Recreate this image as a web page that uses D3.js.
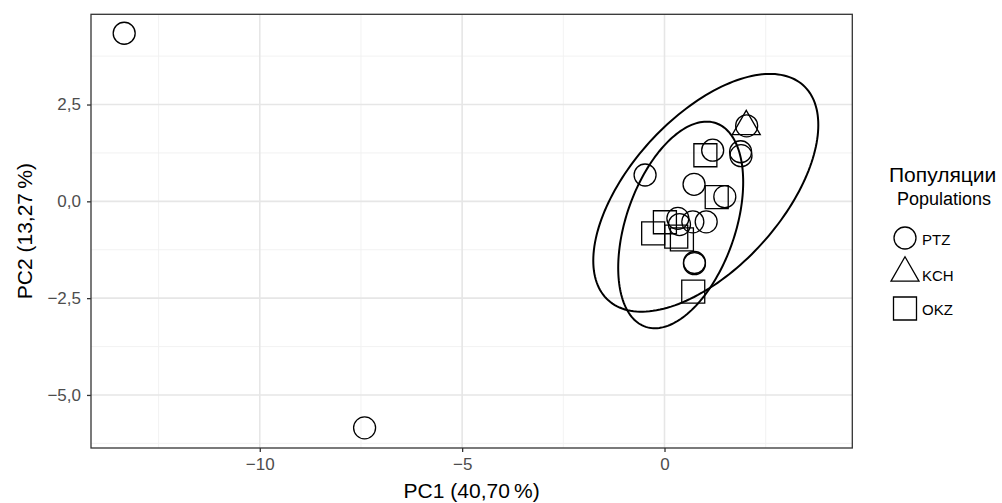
<!DOCTYPE html>
<html>
<head>
<meta charset="utf-8">
<script src="https://cdn.jsdelivr.net/npm/d3@7"></script>
<style>
  body { margin: 0; background: #fff; }
  text { font-family: "Liberation Sans", Arial, sans-serif; }
</style>
</head>
<body>
<div id="chart"></div>
<script>
// PCA scores
var ptzX = [-13.35, -7.41, -0.48, 2.03, 1.19, 1.88, 1.89, 0.73, 1.49, 0.33, 0.37, 0.70, 1.03, 0.74, 0.74];
var ptzY = [4.34, -5.85, 0.68, 1.95, 1.32, 1.28, 1.18, 0.44, 0.12, -0.44, -0.60, -0.53, -0.53, -1.58, -1.61];
var kchX = [2.02];
var kchY = [1.93];
var okzX = [1.01, 1.29, 0.01, -0.28, 0.29, 0.43, 0.71];
var okzY = [1.19, 0.11, -0.54, -0.83, -0.91, -0.98, -2.33];

// confidence ellipses: centre, sd x, sd y, covariance term (data units)
var ellCx = [1.02, 0.40];
var ellCy = [0.22, -0.61];
var ellSx = [2.78, 1.544];
var ellSy = [3.07, 2.668];
var ellCov = [4.87, 1.707];

var xTicks = [-10, -5, 0];
var yTicks = [-5, -2.5, 0, 2.5];
var xMinor = [-12.5, -7.5, -2.5, 2.5];
var yMinor = [-6.25, -3.75, -1.25, 1.25, 3.75];

var groups = ["PTZ", "KCH", "OKZ"];
var shapes = ["circle", "triangle", "square"];

var width = 1002, height = 503;
var margin = {top: 14.3, right: 149.7, bottom: 55, left: 91};

var svg = d3.select("#chart").append("svg")
    .attr("width", width)
    .attr("height", height);

var x = d3.scaleLinear().domain([-14.17, 4.64]).range([margin.left, width - margin.right]);
var y = d3.scaleLinear().domain([-6.37, 4.83]).range([height - margin.bottom, margin.top]);

var fmt = function(v, dec) {
  return d3.format(dec ? ".1f" : "d")(v).replace(".", ",").replace("-", "\u2212");
};

// grid
var grid = svg.append("g");
grid.selectAll(".xmin").data(xMinor).enter().append("line")
    .attr("x1", d => x(d)).attr("x2", d => x(d))
    .attr("y1", y.range()[0]).attr("y2", y.range()[1])
    .attr("stroke", "#f0f0f0").attr("stroke-width", 0.9);
grid.selectAll(".ymin").data(yMinor).enter().append("line")
    .attr("y1", d => y(d)).attr("y2", d => y(d))
    .attr("x1", x.range()[0]).attr("x2", x.range()[1])
    .attr("stroke", "#f0f0f0").attr("stroke-width", 0.9);
grid.selectAll(".xmaj").data(xTicks).enter().append("line")
    .attr("x1", d => x(d)).attr("x2", d => x(d))
    .attr("y1", y.range()[0]).attr("y2", y.range()[1])
    .attr("stroke", "#e6e6e6").attr("stroke-width", 1.6);
grid.selectAll(".ymaj").data(yTicks).enter().append("line")
    .attr("y1", d => y(d)).attr("y2", d => y(d))
    .attr("x1", x.range()[0]).attr("x2", x.range()[1])
    .attr("stroke", "#e6e6e6").attr("stroke-width", 1.6);

// ellipses
var ellLine = d3.line().x(d => x(d[0])).y(d => y(d[1])).curve(d3.curveLinearClosed);
ellCx.forEach(function(cx, i) {
  var a = ellSx[i], l21 = ellCov[i] / a;
  var l22 = Math.sqrt(ellSy[i] * ellSy[i] - l21 * l21);
  var pts = d3.range(0, 361, 2).map(function(deg) {
    var t = deg * Math.PI / 180, c = Math.cos(t), s = Math.sin(t);
    return [cx + a * c, ellCy[i] + l21 * c + l22 * s];
  });
  svg.append("path").attr("d", ellLine(pts))
      .attr("fill", "none").attr("stroke", "#000").attr("stroke-width", 2);
});

// point shapes
function shapePath(shape) {
  if (shape === "circle") return "M-11,0A11,11 0 1,0 11,0A11,11 0 1,0 -11,0Z";
  if (shape === "square") return "M-11.5,-11.5H11.5V11.5H-11.5Z";
  return "M0,-16.2L14,8.1L-14,8.1Z";
}

function drawPoints(xs, ys, shape) {
  svg.append("g").selectAll("path").data(xs).enter().append("path")
      .attr("d", shapePath(shape))
      .attr("transform", (d, i) => "translate(" + x(d) + "," + y(ys[i]) + ")")
      .attr("fill", "none").attr("stroke", "#000").attr("stroke-width", 1.3);
}
drawPoints(ptzX, ptzY, "circle");
drawPoints(kchX, kchY, "triangle");
drawPoints(okzX, okzY, "square");

// panel border
svg.append("rect")
    .attr("x", x.range()[0]).attr("y", y.range()[1])
    .attr("width", x.range()[1] - x.range()[0])
    .attr("height", y.range()[0] - y.range()[1])
    .attr("fill", "none").attr("stroke", "#333").attr("stroke-width", 1.3);

// axes
var xAxis = svg.append("g")
    .attr("transform", "translate(0," + y.range()[0] + ")")
    .call(d3.axisBottom(x).tickValues(xTicks).tickSize(4).tickPadding(6).tickFormat(d => fmt(d, false)));
var yAxis = svg.append("g")
    .attr("transform", "translate(" + x.range()[0] + ",0)")
    .call(d3.axisLeft(y).tickValues(yTicks).tickSize(4).tickPadding(6).tickFormat(d => fmt(d, true)));
[xAxis, yAxis].forEach(function(ax) {
  ax.select(".domain").remove();
  ax.selectAll(".tick line").attr("stroke", "#333").attr("stroke-width", 1.3);
  ax.selectAll(".tick text").attr("fill", "#4d4d4d").style("font-size", "17px")
      .style("font-family", "'Liberation Sans', Arial, sans-serif");
});

// axis titles
svg.append("text")
    .attr("x", (x.range()[0] + x.range()[1]) / 2).attr("y", 498)
    .attr("text-anchor", "middle").style("font-size", "21px")
    .text("PC1 (40,70\u2009%)");
svg.append("text")
    .attr("transform", "translate(32," + ((y.range()[0] + y.range()[1]) / 2) + ") rotate(-90)")
    .attr("text-anchor", "middle").style("font-size", "21px")
    .text("PC2 (13,27\u2009%)");

// legend
svg.append("text").attr("x", 889).attr("y", 182).style("font-size", "21px").text("Популяции");
svg.append("text").attr("x", 897).attr("y", 205).style("font-size", "18px").text("Populations");

var legY = [238, 273, 308.5];
var lblY = [245, 281, 315];
groups.forEach(function(g, i) {
  svg.append("path").attr("d", shapePath(shapes[i]))
      .attr("transform", "translate(905," + legY[i] + ")")
      .attr("fill", "none").attr("stroke", "#000").attr("stroke-width", 1.3);
  svg.append("text").attr("x", 922).attr("y", lblY[i]).style("font-size", "15px").text(g);
});
</script>
</body>
</html>
